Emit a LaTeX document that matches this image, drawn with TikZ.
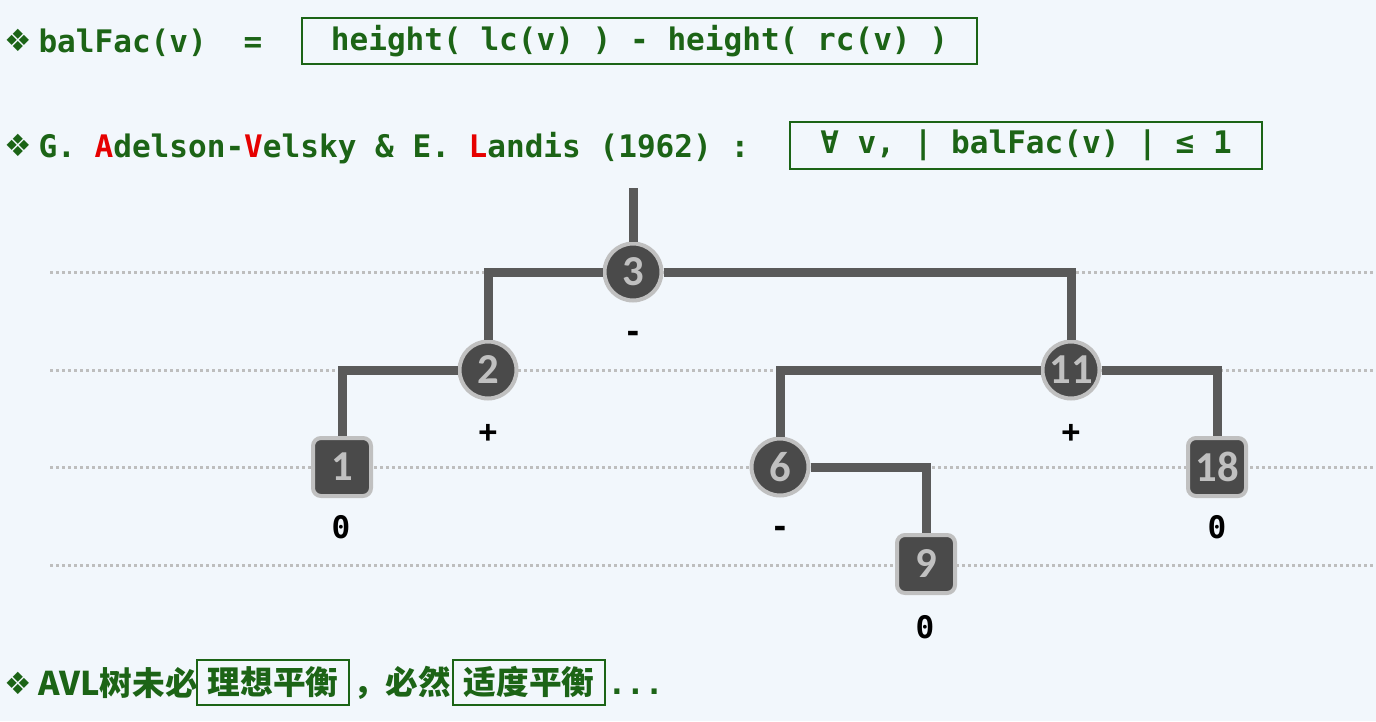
\documentclass[tikz,border=0pt]{standalone}
\usepackage{fontspec}
\setmainfont{DejaVu Sans Mono}
\newfontfamily\symfont{DejaVu Sans}
\newfontfamily\cjk{Noto Sans CJK SC}
\newfontfamily\numfont{Carlito}

\definecolor{pagebg}{RGB}{242,247,252}
\definecolor{txtgreen}{RGB}{28,100,22}
\definecolor{kred}{RGB}{230,0,0}
\definecolor{edgegray}{RGB}{90,90,90}
\definecolor{nodefill}{RGB}{74,74,74}
\definecolor{nodering}{RGB}{192,192,192}
\definecolor{guidegray}{RGB}{190,190,190}

\tikzset{every picture/.style={line width=0.75pt}}
\tikzset{
  avlint/.style={circle, fill=nodefill, draw=nodering, line width=3pt, minimum size=42.75pt, inner sep=0pt,
    text=nodering, font=\numfont\bfseries\fontsize{32}{32}\selectfont},
  avlleaf/.style={rectangle, rounded corners=6pt, fill=nodefill, draw=nodering, line width=3pt, minimum size=43.5pt, inner sep=0pt,
    text=nodering, font=\numfont\bfseries\fontsize{32}{32}\selectfont},
  avledge/.style={draw=edgegray, line width=6.75pt},
  balmark/.style={font=\bfseries\fontsize{23.3}{28}\selectfont, text=black, inner sep=0pt},
  guide/.style={draw=guidegray, line width=2.25pt, dash pattern=on 2.25pt off 2.25pt},
  headtxt/.style={font=\bfseries\fontsize{23.3}{28}\selectfont, text=txtgreen, inner sep=0pt},
  bullet/.style={font=\symfont\fontsize{23}{23}\selectfont, text=txtgreen, inner sep=0pt},
  headbox/.style={draw=txtgreen, line width=1.5pt, inner sep=0pt},
  cjktxt/.style={font=\cjk\bfseries\fontsize{24.5}{30}\selectfont, text=txtgreen, inner sep=0pt}
}

\begin{document}
\begin{tikzpicture}[x=0.75pt,y=0.75pt,yscale=-1,xscale=1]
\useasboundingbox (0,0) rectangle (1376,721);
\fill[pagebg] (0,0) rectangle (1376,721);

%Straight Lines: level guides
\draw[guide] (50,272) -- (1376,272);
\draw[guide] (50,370) -- (1376,370);
\draw[guide] (50,467) -- (1376,467);
\draw[guide] (50,565) -- (1376,565);

% Text Node
\draw (18,40) node [bullet] (bul1) {❖};
\draw (38,52) node [headtxt, anchor=base west] (bfdef) {balFac(v)};
\draw (253,52) node [headtxt, anchor=base] (eqsign) {=};
\draw (639.5,41) node [headtxt, headbox, minimum width=506.25pt, minimum height=34.5pt] (bfbox) {height( lc(v) ) - height( rc(v) )};

% Text Node
\draw (18,145) node [bullet] (bul2) {❖};
\draw (38,157) node [headtxt, anchor=base west] (avlname) {G. \textcolor{kred}{A}delson-\textcolor{kred}{V}elsky \& E. \textcolor{kred}{L}andis (1962) :};
\draw (1026,145.5) node [headtxt, headbox, minimum width=354pt, minimum height=35.25pt] (condbox) {∀ v, | balFac(v) | ≤ 1};

%Shape: tree nodes
\node [avlint] (n3) at (633,272) {3};
\node [avlint] (n2) at (488,370) {2};
\node [avlint] (n11) at (1071,370) {11};
\node [avlleaf] (n1) at (342,467) {1};
\node [avlint] (n6) at (780,467) {6};
\node [avlleaf] (n18) at (1217,467) {18};
\node [avlleaf] (n9) at (926,564) {9};
\coordinate (rootin) at (633,188);

%Straight Lines: tree edges
\draw [avledge] (rootin) -- (n3);
\draw [avledge] (n3) -| (n2);
\draw [avledge] (n3) -| (n11);
\draw [avledge] (n2) -| (n1);
\draw [avledge] (n11) -| (n6);
\draw [avledge] (n11) -| (n18);
\draw [avledge] (n6) -| (n9);

% Text Node: balance factors
\draw (633,337) node [balmark] (b3) {-};
\draw (488,433) node [balmark] (b2) {+};
\draw (1071,433) node [balmark] (b11) {+};
\draw (341,527) node [balmark] (b1) {0};
\draw (780,532) node [balmark] (b6) {-};
\draw (1217,527) node [balmark] (b18) {0};
\draw (925,627) node [balmark] (b9) {0};

% Text Node
\draw (18,683) node [bullet] (bul3) {❖};
\draw (38,683) node [cjktxt, anchor=west] (avlnote) {AVL树未必};
\draw (273,682) node [cjktxt, headbox, minimum width=114pt, minimum height=33.75pt] (idealbox) {理想平衡};
\draw (402,683) node [cjktxt] (comma) {，必然};
\draw (529,682) node [cjktxt, headbox, minimum width=114pt, minimum height=33.75pt] (modbox) {适度平衡};
\draw (607,694) node [headtxt, anchor=base west] (dots) {...};

\end{tikzpicture}
\end{document}
